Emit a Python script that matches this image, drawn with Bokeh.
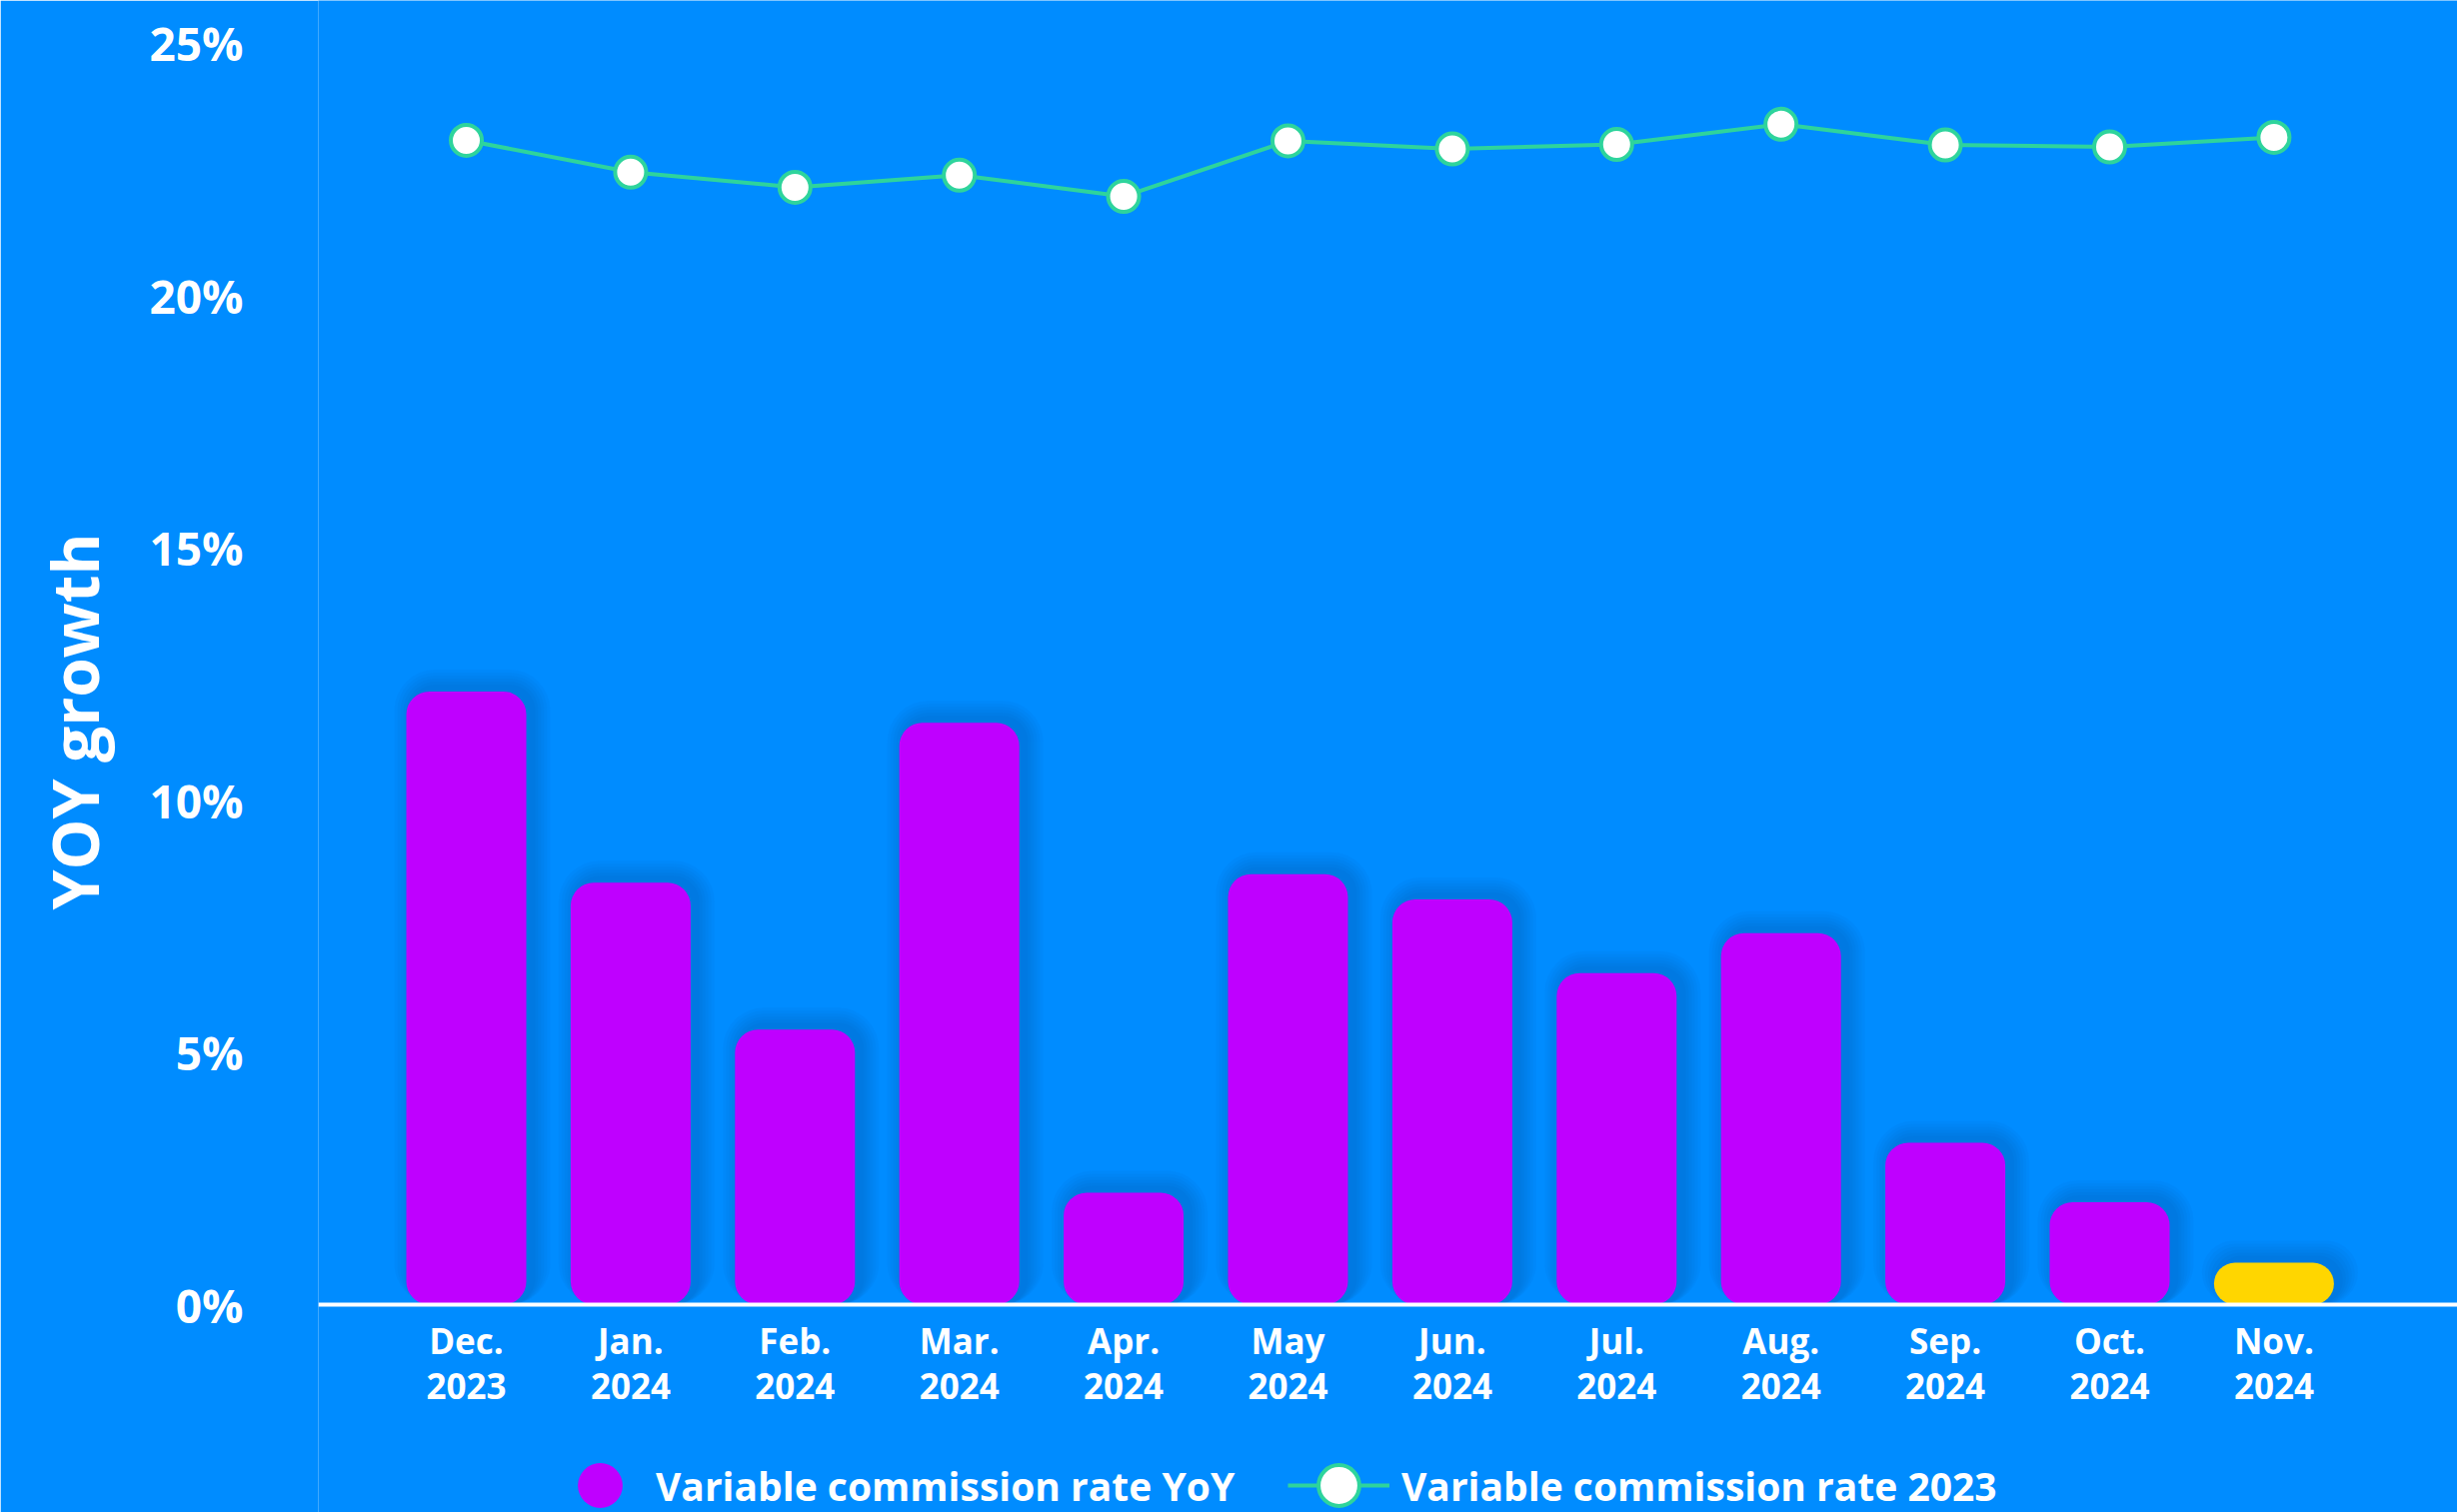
from bokeh.plotting import figure
from bokeh.models import Range1d, FixedTicker, Legend, LegendItem, PrintfTickFormatter, Title
from bokeh.embed import file_html
from bokeh.resources import INLINE

# ---------------- data ----------------
months = ["Dec.", "Jan.", "Feb.", "Mar.", "Apr.", "May", "Jun.", "Jul.", "Aug.", "Sep.", "Oct.", "Nov."]
years = ["2023", "2024", "2024", "2024", "2024", "2024", "2024", "2024", "2024", "2024", "2024", "2024"]
yoy_growth = [12.15, 8.36, 5.45, 11.53, 2.22, 8.53, 8.03, 6.57, 7.36, 3.21, 2.03, 0.83]
rate_2023 = [23.07, 22.44, 22.14, 22.38, 21.96, 23.06, 22.90, 22.99, 23.39, 22.98, 22.94, 23.13]
y_ticks = [0, 5, 10, 15, 20, 25]
series_names = ["Variable commission rate YoY", "Variable commission rate 2023"]
y_title = "YOY growth"

# ---------------- style ----------------
BG = "#008CFF"
PURPLE = "#BF00FF"
YELLOW = "#FFD600"
GREEN = "#2ED49C"
SHADOW = "#003A8C"
FONT = "Open Sans"

W, H = 2458, 1513
LEFT = 318
frame_w, frame_h = W - LEFT, H
PX_PER_X = 164.4
PX_PER_Y = 50.5
ZERO_PX = 1305
x_start = -148 / PX_PER_X
x_end = x_start + frame_w / PX_PER_X
y_end = ZERO_PX / PX_PER_Y
y_start = y_end - frame_h / PX_PER_Y
ux = 1 / PX_PER_X
uy = 1 / PX_PER_Y

xs = list(range(len(months)))
bar_colors = [PURPLE] * (len(xs) - 1) + [YELLOW]
BAR_W = 0.73
RADIUS = 23

p = figure(width=W, height=H, output_backend="svg", toolbar_location=None, title=None,
           x_range=Range1d(x_start, x_end), y_range=Range1d(y_start, y_end),
           min_border_left=LEFT, min_border_right=0, min_border_top=0, min_border_bottom=0)
p.background_fill_color = BG
p.border_fill_color = BG
p.outline_line_color = None
p.xgrid.visible = False
p.ygrid.visible = False

# soft drop shadow behind bars
for k in range(1, 7):
    g = 3 * k
    p.vbar(x=[x + 6 * ux for x in xs], top=[v + (4 + g) * uy for v in yoy_growth], bottom=0,
           width=BAR_W + 2 * g * ux, fill_color=SHADOW, fill_alpha=0.045, line_color=None,
           border_radius=RADIUS + g)

bars = p.vbar(x=xs, top=yoy_growth, bottom=0, width=BAR_W, fill_color=bar_colors,
              line_color=None, border_radius=RADIUS)

ln = p.line(xs, rate_2023, line_color=GREEN, line_width=4)
pts = p.scatter(xs, rate_2023, size=31, marker="circle", fill_color="white",
                line_color=GREEN, line_width=4)

# zero-size purple markers: only used to draw the round legend swatch
swatch = p.scatter(xs, yoy_growth, size=0, marker="circle", fill_color=PURPLE, line_color=None)

# x axis, pinned at 0%
xa = p.xaxis[0]
xa.fixed_location = 0
xa.ticker = FixedTicker(ticks=xs)
xa.major_label_overrides = {i: f"{m}\n{y}" for i, (m, y) in enumerate(zip(months, years))}
xa.axis_line_color = "white"
xa.axis_line_width = 4
xa.major_tick_line_color = None
xa.minor_tick_line_color = None
xa.major_tick_out = 0
xa.minor_tick_out = 0
xa.major_label_standoff = 12
xa.major_label_text_color = "white"
xa.major_label_text_font = FONT
xa.major_label_text_font_style = "bold"
xa.major_label_text_font_size = "35px"
xa.major_label_text_line_height = 0.97

# y axis
ya = p.yaxis[0]
ya.ticker = FixedTicker(ticks=y_ticks)
ya.formatter = PrintfTickFormatter(format="%d%%")
ya.axis_line_color = None
ya.major_tick_line_color = None
ya.minor_tick_line_color = None
ya.major_tick_out = 0
ya.minor_tick_out = 0
ya.major_label_standoff = 75
ya.major_label_text_color = "white"
ya.major_label_text_font = FONT
ya.major_label_text_font_style = "bold"
ya.major_label_text_font_size = "46px"

yt = Title(text=y_title, align="right", offset=533, vertical_align="middle",
           text_color="white", text_font=FONT, text_font_style="bold",
           text_font_size="64px", standoff=55)
p.add_layout(yt, "left")

common = dict(padding=0, margin=0, border_line_color=None, background_fill_alpha=0,
              label_text_color="white", label_text_font=FONT, label_text_font_style="bold",
              label_text_font_size="39px", spacing=0)

leg1 = Legend(items=[LegendItem(label=series_names[0], renderers=[swatch])],
              location=(226, -29), glyph_width=112, glyph_height=112, label_standoff=0, **common)
leg2 = Legend(items=[LegendItem(label=series_names[1], renderers=[ln, pts])],
              location=(970, -24), glyph_width=102, glyph_height=102, label_standoff=12, **common)
p.add_layout(leg1)
p.add_layout(leg2)

open("out.html", "w").write(file_html(p, INLINE))
